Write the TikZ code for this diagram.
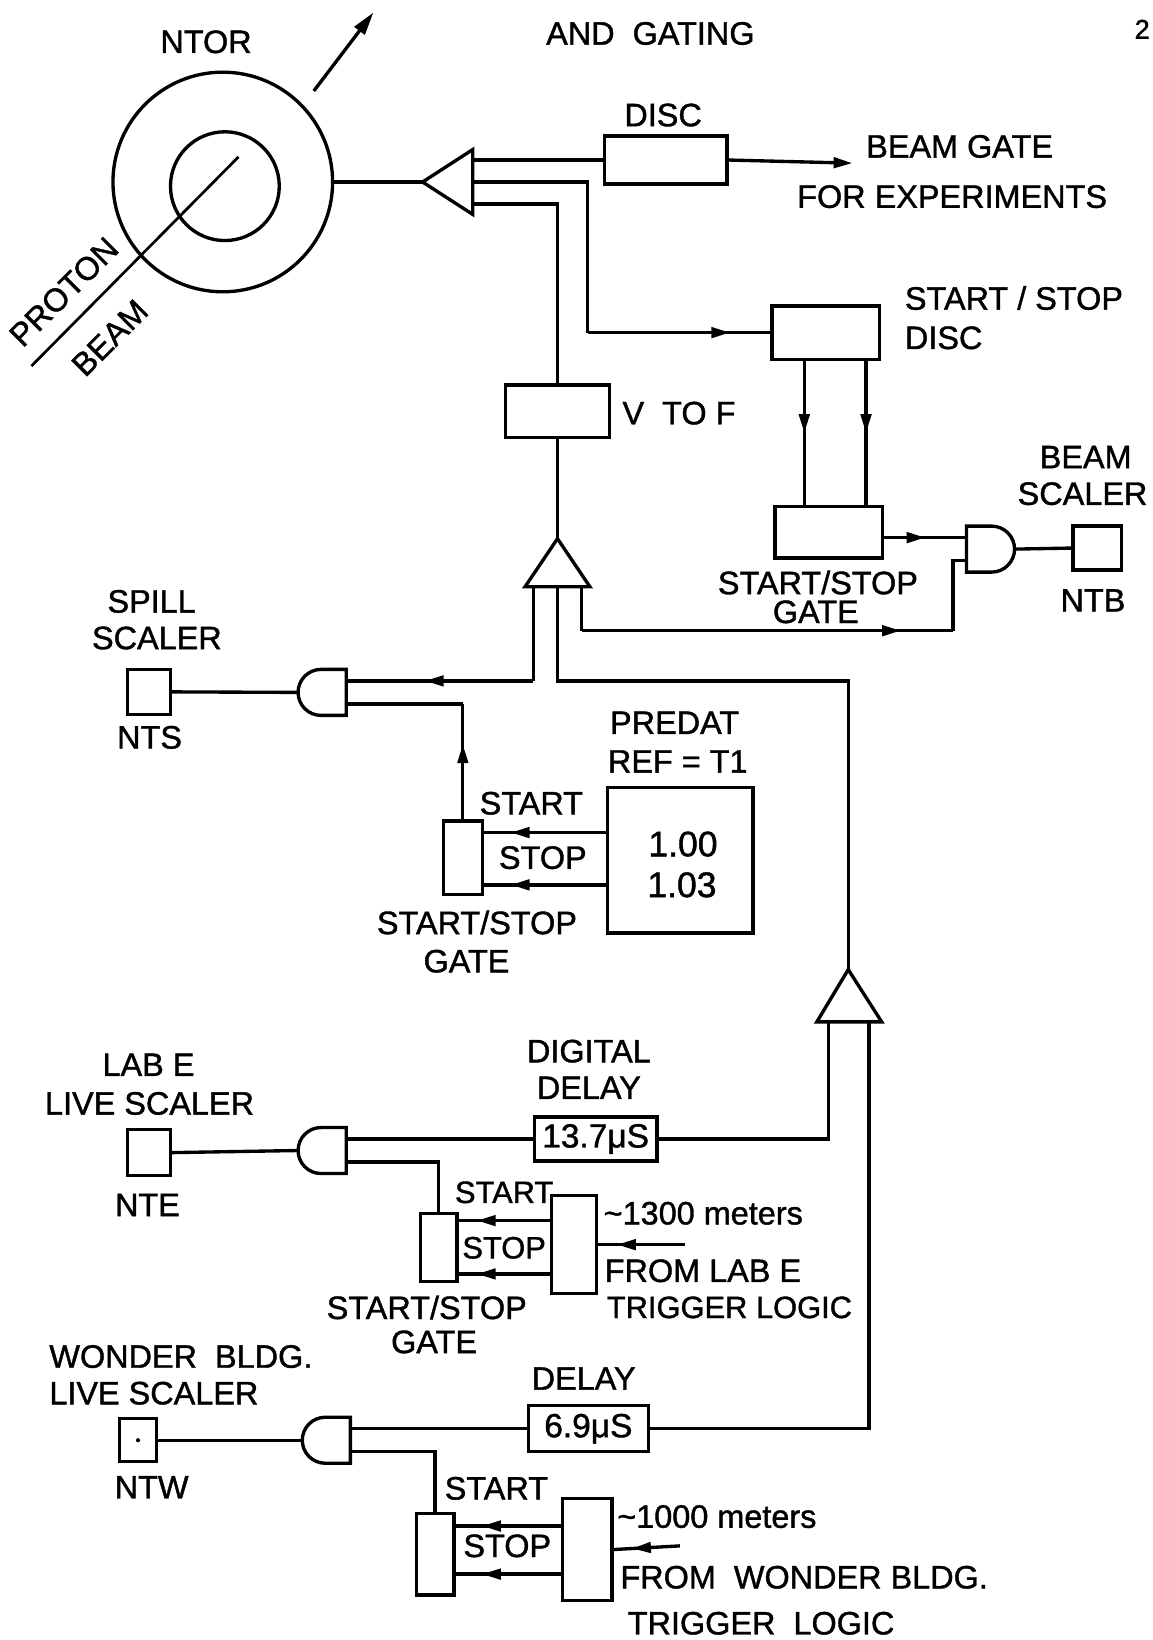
\documentclass[tikz,border=0pt]{standalone}
\usepackage{fontspec}
\setmainfont{Liberation Sans}[FakeBold=1.2]
\usetikzlibrary{arrows.meta,decorations.markings,calc}
\begin{document}
\begin{tikzpicture}[x=1pt,y=-1pt,
  w/.style={line width=3.2pt},
  box/.style={draw,line width=3.2pt,rectangle,inner sep=0pt},
  lab/.style={font=\fontsize{31}{34}\selectfont,inner sep=0pt},
  labs/.style={font=\fontsize{29.5}{32}\selectfont,inner sep=0pt},
  labb/.style={font=\fontsize{34}{37}\selectfont,inner sep=0pt},
  ma/.style={postaction={decorate},decoration={markings,mark=at position #1 with {\arrow{Triangle[length=18pt,width=10pt]}}}},
  andL/.pic={
    \draw[line width=3.2pt] (24,-22) -- (0,-22) arc[start angle=270,end angle=90,radius=22] -- (24,22) -- cycle;
    \coordinate (-i1) at (24,-11); \coordinate (-i2) at (24,11); \coordinate (-o) at (-22,0);
  },
  andR/.pic={
    \draw[line width=3.2pt] (-24,-22) -- (0,-22) arc[start angle=-90,end angle=90,radius=22] -- (-24,22) -- cycle;
    \coordinate (-i1) at (-24,-11); \coordinate (-i2) at (-24,11); \coordinate (-o) at (22,0);
  }]
\useasboundingbox[fill=white] (0,0) rectangle (1102,1568);

% ---- title
\node[lab,anchor=west] (title) at (522,32) {AND\ \ GATING};
\node[font=\fontsize{26}{28}\selectfont,inner sep=0pt] (pnum) at (1092,28) {2};

% ---- toroid
\node[draw,circle,line width=3.2pt,minimum size=210pt,inner sep=0pt] (ntor) at (213,174) {};
\node[draw,circle,line width=3.2pt,minimum size=104pt,inner sep=0pt] (ntori) at (215,178) {};
\node[lab] (ntorl) at (197,40) {NTOR};
\coordinate (ar1) at (300,87); \coordinate (ar2) at (357,12);
\draw[w,-{Triangle[length=22pt,width=12pt]}] (ar1) -- (ar2);
\coordinate (pb1) at (30,350); \coordinate (pb2) at (228,150);
\draw[line width=2.6pt] (pb1) -- (pb2);
\node[lab,rotate=45] (proton) at (61,279) {PROTON};
\node[lab,rotate=45] (beam) at (105,323) {BEAM};

% ---- left-pointing amplifier
\coordinate (tipL) at (404,174);
\coordinate (L1) at (452,153); \coordinate (L2) at (452,174); \coordinate (L3) at (452,195);
\draw[w,line join=miter] (tipL) -- (452,143) -- (452,205) -- cycle;
\draw[w] (ntor.east) -- (tipL);

% ---- DISC
\node[box,minimum width=117pt,minimum height=46pt] (disc) at (636.5,153) {};
\node[lab] (discl) at (634,110) {DISC};
\draw[w] (L1) -- (disc.west);
\coordinate (bg) at (815,156);
\draw[w,-{Triangle[length=18pt,width=10pt]}] (disc.east) -- (bg);
\node[lab,anchor=west] (bgl1) at (828,140) {BEAM GATE};
\node[lab,anchor=west] (bgl2) at (762,188) {FOR EXPERIMENTS};

% ---- START/STOP DISC and GATE
\node[box,minimum width=103pt,minimum height=51pt] (ssdisc) at (789.5,318) {};
\node[lab,anchor=west] (ssdl1) at (865,285) {START / STOP};
\node[lab,anchor=west] (ssdl2) at (865,323) {DISC};
\coordinate (c562a) at (562,174); \coordinate (c562b) at (562,318);
\draw[w] (L2) -- (c562a) -- (c562b);
\draw[w,ma=0.78] (c562b) -- (ssdisc.west);
\node[box,minimum width=103pt,minimum height=49pt] (ssgate) at (792.5,509) {};
\coordinate (v1) at (769,0); \coordinate (v2) at (828,0);
\draw[w,ma=0.5] (ssdisc.south -| v1) -- (ssgate.north -| v1);
\draw[w,ma=0.5] (ssdisc.south -| v2) -- (ssgate.north -| v2);
\node[lab] (ssgl1) at (782,557) {START/STOP};
\node[lab] (ssgl2) at (780,585) {GATE};

% ---- beam AND + NTB
\pic (band) at (948,525) {andR};
\draw[w,ma=0.5] (ssgate.east |- band-i1) -- (band-i1);
\node[box,minimum width=46pt,minimum height=42pt] (ntb) at (1049,524) {};
\draw[w] (band-o) -- (ntb.west);
\node[lab] (ntbl1) at (1038,437) {BEAM};
\node[lab] (ntbl2) at (1035,472) {SCALER};
\node[lab] (ntbl3) at (1045,574) {NTB};

% ---- V TO F
\node[box,minimum width=100pt,minimum height=50pt] (vtof) at (533,393) {};
\node[lab,anchor=west] (vtofl) at (595,395) {V\ \ TO F};
\coordinate (c533) at (533,195);
\draw[w] (L3) -- (c533) -- (vtof.north);

% ---- upper up-pointing amplifier
\coordinate (apU) at (533,515);
\coordinate (U1) at (510,561); \coordinate (U2) at (533,561); \coordinate (U3) at (556,561);
\draw[w,line join=miter] (apU) -- (564,561) -- (502,561) -- cycle;
\draw[w] (vtof.south) -- (apU);

% ---- lower right path to beam AND
\coordinate (r1) at (556,603); \coordinate (r2) at (911,603);
\draw[w] (U3) -- (r1);
\draw[w,ma=0.86] (r1) -- (r2);
\draw[w] (r2) |- (band-i2);

% ---- lower amplifier
\coordinate (apD) at (811,927);
\coordinate (D1) at (792,977); \coordinate (D2) at (831,977);
\draw[w,line join=miter] (apD) -- (843,977) -- (781,977) -- cycle;
\coordinate (m1) at (533,651); \coordinate (m2) at (811,651);
\draw[w] (U2) -- (m1) -- (m2) -- (apD);

% ---- spill scaler
\pic (sand) at (307,662) {andL};
\coordinate (s1) at (510,651);
\draw[w] (U1) -- (s1);
\draw[w,ma=0.58] (s1) -- (sand-i1);
\node[box,minimum width=41pt,minimum height=43pt] (nts) at (142.5,661.5) {};
\draw[w] (sand-o) -- (nts.east);
\node[lab] (ntsl1) at (145,575) {SPILL};
\node[lab] (ntsl2) at (150,610) {SCALER};
\node[lab] (ntsl3) at (143,705) {NTS};
\node[box,minimum width=37pt,minimum height=70pt] (sg1) at (442.5,820) {};
\coordinate (s2) at (442.5,673);
\draw[w] (sand-i2) -- (s2);
\draw[w,ma=0.65] (sg1.north) -- (s2);
\node[box,minimum width=139pt,minimum height=139pt] (predat) at (650.5,822.5) {};
\coordinate (p1) at (0,796); \coordinate (p2) at (0,846);
\draw[w,ma=0.78] (predat.west |- p1) -- (sg1.east |- p1);
\draw[w,ma=0.78] (predat.west |- p2) -- (sg1.east |- p2);
\node[lab] (pr1) at (645,691) {PREDAT};
\node[lab] (pr2) at (648,728) {REF = T1};
\node[labb] (pr3) at (653,807) {1.00};
\node[labb] (pr4) at (652,846) {1.03};
\node[lab] (st1) at (508,768) {START};
\node[lab] (sp1) at (519,820) {STOP};
\node[lab] (sgl1) at (456,882) {START/STOP};
\node[lab] (sgl2) at (446,919) {GATE};

% ---- LAB E
\node[box,minimum width=117pt,minimum height=42pt] (d137) at (569.5,1089) {\fontsize{32}{34}\selectfont 13.7μS};
\node[lab] (dg1) at (563,1005) {DIGITAL};
\node[lab] (dg2) at (563,1040) {DELAY};
\coordinate (e1) at (792,1089);
\draw[w] (D1) -- (e1) -- (d137.east);
\pic (eand) at (307,1100) {andL};
\draw[w] (d137.west) -- (eand-i1);
\node[box,minimum width=41pt,minimum height=44pt] (nte) at (142.5,1102) {};
\draw[w] (eand-o) -- (nte.east);
\node[lab] (ntel1) at (142,1018) {LAB E};
\node[lab] (ntel2) at (143,1055) {LIVE SCALER};
\node[lab] (ntel3) at (141,1152) {NTE};
\node[box,minimum width=35pt,minimum height=65pt] (sg2) at (419.5,1192.5) {};
\draw[w] (eand-i2) -| (sg2.north);
\node[box,minimum width=43pt,minimum height=94pt] (bb2) at (548.5,1190) {};
\coordinate (q1) at (0,1167); \coordinate (q2) at (0,1218);
\draw[w,ma=0.8] (bb2.west |- q1) -- (sg2.east |- q1);
\draw[w,ma=0.8] (bb2.west |- q2) -- (sg2.east |- q2);
\coordinate (e2) at (655,1190);
\draw[w,ma=0.78] (e2) -- (bb2.east);
\node[labs] (st2) at (482,1140) {START};
\node[labs] (sp2) at (482,1193) {STOP};
\node[lab,anchor=west] (m13) at (577,1160) {\textasciitilde 1300 meters};
\node[lab,anchor=west] (fl1) at (578,1215) {FROM LAB E};
\node[labs,anchor=west] (fl2) at (580,1250) {TRIGGER LOGIC};
\node[lab] (sgl3) at (408,1250) {START/STOP};
\node[lab] (sgl4) at (415,1283) {GATE};

% ---- WONDER BLDG
\node[box,minimum width=115pt,minimum height=44pt] (d69) at (562.5,1366) {\fontsize{32}{34}\selectfont 6.9μS};
\node[lab] (dl3) at (558,1318) {DELAY};
\coordinate (w1) at (831,1366);
\draw[w] (D2) -- (w1) -- (d69.east);
\pic (wand) at (311,1377) {andL};
\draw[w] (d69.west) -- (wand-i1);
\node[box,minimum width=35pt,minimum height=41pt] (ntw) at (132,1377) {};
\fill (ntw.center) circle (2pt);
\draw[w] (wand-o) -- (ntw.east);
\node[lab,anchor=west] (ntwl1) at (47,1297) {WONDER\ \ BLDG.};
\node[lab,anchor=west] (ntwl2) at (47,1332) {LIVE SCALER};
\node[lab] (ntwl3) at (145,1422) {NTW};
\node[box,minimum width=36pt,minimum height=78pt] (sg3) at (416,1486) {};
\draw[w] (wand-i2) -| (sg3.north);
\node[box,minimum width=47pt,minimum height=97pt] (bb3) at (561.5,1481.5) {};
\coordinate (t1) at (0,1459); \coordinate (t2) at (0,1505);
\draw[w,ma=0.75] (bb3.west |- t1) -- (sg3.east |- t1);
\draw[w,ma=0.75] (bb3.west |- t2) -- (sg3.east |- t2);
\coordinate (w2) at (650,1478);
\draw[w,ma=0.72] (w2) -- (bb3.east);
\node[lab,anchor=west] (st3) at (425,1423) {START};
\node[lab] (sp3) at (485,1478) {STOP};
\node[lab,anchor=west] (m10) at (590,1450) {\textasciitilde 1000 meters};
\node[lab,anchor=west] (fw1) at (593,1508) {FROM\ \ WONDER\ BLDG.};
\node[lab,anchor=west] (fw2) at (600,1552) {TRIGGER\ \ LOGIC};
\end{tikzpicture}
\end{document}
